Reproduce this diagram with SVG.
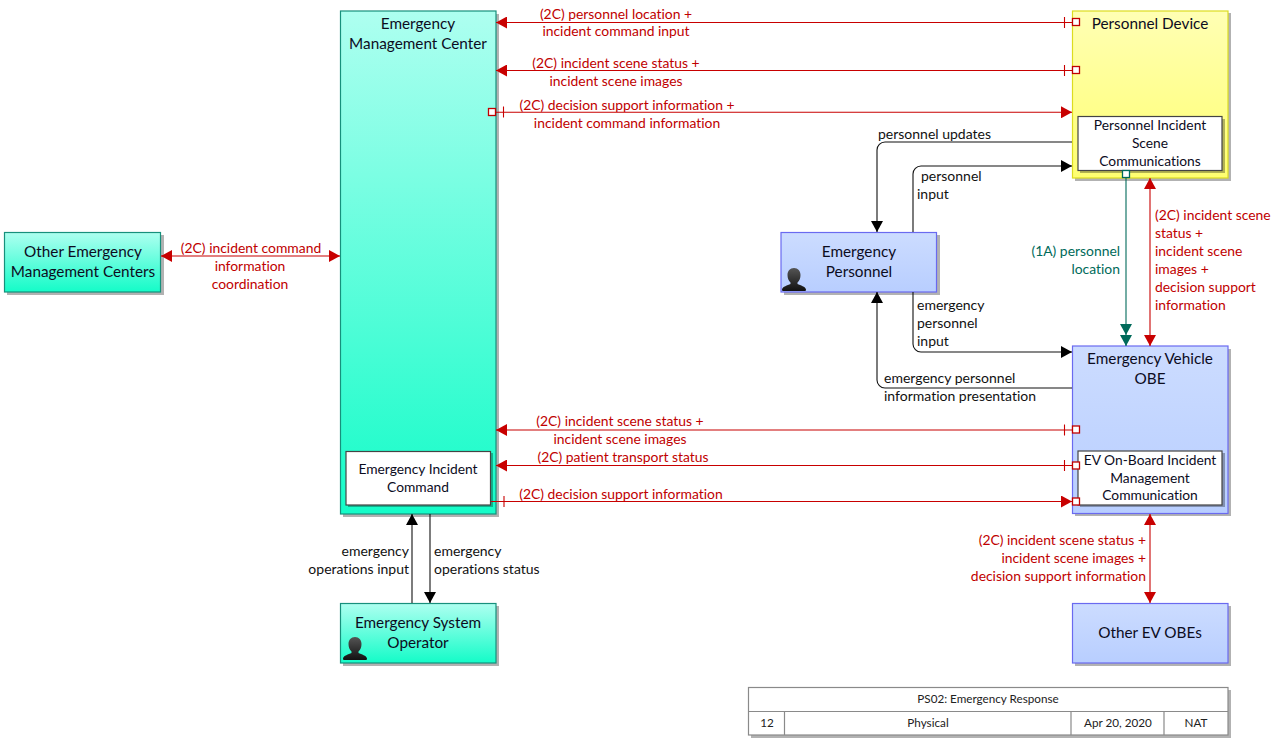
<svg xmlns="http://www.w3.org/2000/svg" width="1279" height="738" viewBox="0 0 1279 738">
<style>
text{font-family:Lato,"Open Sans","Liberation Sans",sans-serif;text-anchor:middle;font-variant-ligatures:none}
.n{font-size:15.3px;fill:#0c0c1e}
.i{font-size:13.8px;fill:#0c0c1e}
.l{font-size:14px;fill:#111}
.r{font-size:13.9px;fill:#c00000}
.t{font-size:13.9px;fill:#006a5a}
.f{font-size:11.7px;fill:#222}
.s{text-anchor:start}.e{text-anchor:end}
.sh{fill:#000;opacity:.3}
.box{fill:#fff;stroke:#444;stroke-width:1.2}
.tg{fill:url(#tg);stroke:#17907c;stroke-width:1.2}
.yl{fill:url(#yl);stroke:#dcdc20;stroke-width:1.2}
.bl{fill:url(#bl);stroke:#6a6af0;stroke-width:1.2}
.c{fill:none;stroke-width:1.1}
.kc{stroke:#111}.rc{stroke:#c80000}.gc{stroke:#006a5a}
.pr{fill:#fff;stroke:#c00000;stroke-width:1.3}
.pg{fill:#fff;stroke:#006a5a;stroke-width:1.3}
.ft{fill:#fff;stroke:#8a8a8a;stroke-width:1.2}
</style>
<defs>
<linearGradient id="tg" x1="0" y1="0" x2="0" y2="1"><stop offset="0" stop-color="#aefff0"/><stop offset="1" stop-color="#14fcc8"/></linearGradient>
<linearGradient id="yl" x1="0" y1="0" x2="0" y2="1"><stop offset="0" stop-color="#ffffb4"/><stop offset="1" stop-color="#ffff70"/></linearGradient>
<linearGradient id="bl" x1="0" y1="0" x2="0" y2="1"><stop offset="0" stop-color="#ccdcff"/><stop offset="1" stop-color="#b8ceff"/></linearGradient>
<linearGradient id="pg" x1="0" y1="0" x2="0" y2="1"><stop offset="0" stop-color="#555"/><stop offset="1" stop-color="#111"/></linearGradient>
<marker id="ak" markerUnits="userSpaceOnUse" markerWidth="11" markerHeight="12" refX="11" refY="6" orient="auto-start-reverse"><path d="M0 0L11 6L0 12Z" fill="#000"/></marker>
<marker id="ar" markerUnits="userSpaceOnUse" markerWidth="11" markerHeight="12" refX="11" refY="6" orient="auto-start-reverse"><path d="M0 0L11 6L0 12Z" fill="#c80000"/></marker>
<marker id="ag" markerUnits="userSpaceOnUse" markerWidth="11" markerHeight="12" refX="11" refY="6" orient="auto-start-reverse"><path d="M0 0L11 6L0 12Z" fill="#006a5a"/></marker>
<path id="person" d="M12 0c4 0 6.500 3 6.500 7 0 3-1 5.500-3 7.500v1.500c3 1.500 8 2.500 8.500 5.500 0 1-.5 1.500-1.500 1.500H1.500C.5 23 0 22.500 0 21.500c.5-3 5.500-4 8.500-5.500v-1.500c-2-2-3-4.500-3-7.500 0-4 2.500-7 6.500-7Z" fill="url(#pg)"/>
</defs>

<g id="emergency-management-center"><rect class="sh" x="343" y="14" width="156" height="503"/><rect class="tg" x="340.500" y="11" width="155.500" height="503"/><text class="n" x="418" y="29">Emergency</text><text class="n" x="418" y="49">Management Center</text>
<rect class="sh" x="348" y="453" width="145" height="54"/><rect class="box" x="346" y="451.500" width="144.500" height="53.500"/><text class="i" x="418" y="474">Emergency Incident</text><text class="i" x="418" y="492">Command</text></g>

<g id="other-emergency-management-centers"><rect class="sh" x="7" y="235" width="157" height="60"/><rect class="tg" x="4.500" y="232.500" width="156" height="59.500"/><text class="n" x="83" y="257">Other Emergency</text><text class="n" x="83" y="277">Management Centers</text></g>

<g id="emergency-system-operator"><rect class="sh" x="343" y="606" width="156" height="60"/><rect class="tg" x="340.500" y="603.500" width="155.500" height="59.500"/><text class="n" x="418" y="628">Emergency System</text><text class="n" x="418" y="648">Operator</text><use href="#person" x="343" y="637"/></g>

<g id="personnel-device"><rect class="sh" x="1075" y="13" width="156" height="168"/><rect class="yl" x="1072.500" y="11" width="155.500" height="167"/><text class="n" x="1150" y="29">Personnel Device</text>
<rect class="sh" x="1080" y="119" width="145" height="54"/><rect class="box" x="1078" y="116.500" width="144" height="54"/><text class="i" x="1150" y="130">Personnel Incident</text><text class="i" x="1150" y="148">Scene</text><text class="i" x="1150" y="166">Communications</text></g>

<g id="emergency-personnel"><rect class="sh" x="784" y="235" width="156" height="60"/><rect class="bl" x="781" y="232.500" width="155.500" height="59.500"/><text class="n" x="859" y="257">Emergency</text><text class="n" x="859" y="277">Personnel</text><use href="#person" x="782" y="268"/></g>

<g id="emergency-vehicle-obe"><rect class="sh" x="1075" y="349" width="156" height="167"/><rect class="bl" x="1072.500" y="346" width="155.500" height="167.500"/><text class="n" x="1150" y="364">Emergency Vehicle</text><text class="n" x="1150" y="384">OBE</text>
<rect class="sh" x="1080" y="453" width="145" height="54"/><rect class="box" x="1078" y="451" width="144" height="54"/><text class="i" x="1150" y="465">EV On-Board Incident</text><text class="i" x="1150" y="483">Management</text><text class="i" x="1150" y="500">Communication</text></g>

<g id="other-ev-obes"><rect class="sh" x="1075" y="606" width="156" height="60"/><rect class="bl" x="1072.500" y="603.500" width="155.500" height="59.500"/><text class="n" x="1150" y="638">Other EV OBEs</text></g>

<g id="connectors">
<path class="c rc" d="M1072 22.500H496" marker-end="url(#ar)"/><path class="c rc" d="M1064.500 17v11"/><rect class="pr" x="1072.500" y="18.500" width="7" height="7"/>
<path class="c rc" d="M1072 70.500H496" marker-end="url(#ar)"/><path class="c rc" d="M1064.500 65v11"/><rect class="pr" x="1072.500" y="66.500" width="7" height="7"/>
<path class="c rc" d="M496 112.300H1072" marker-end="url(#ar)"/><path class="c rc" d="M503.500 106.500v11"/><rect class="pr" x="488.500" y="108.500" width="7" height="7"/>
<path class="c rc" d="M1072 430H496" marker-end="url(#ar)"/><path class="c rc" d="M1064.500 424.500v11"/><rect class="pr" x="1072.500" y="426" width="7" height="7"/>
<path class="c rc" d="M1072 465.500H496" marker-end="url(#ar)"/><path class="c rc" d="M1064.500 460v11"/><rect class="pr" x="1072.500" y="462" width="7" height="7"/>
<path class="c rc" d="M491 501.500H1072" marker-end="url(#ar)"/><path class="c rc" d="M504 496v11"/><rect class="pr" x="1072.500" y="498" width="7" height="7"/>
<path class="c rc" d="M161 256H340" marker-start="url(#ar)" marker-end="url(#ar)"/>
<path class="c rc" d="M1150 178V346" marker-start="url(#ar)" marker-end="url(#ar)"/>
<path class="c rc" d="M1150 514V603" marker-start="url(#ar)" marker-end="url(#ar)"/>
<path class="c gc" d="M1126 178V335" marker-end="url(#ag)"/><path class="c gc" d="M1126 335V346" marker-end="url(#ag)"/><rect class="pg" x="1122.500" y="170.500" width="7" height="7"/>
<path class="c kc" d="M1072 142H885a8 8 0 0 0-8 8V232" marker-end="url(#ak)"/>
<path class="c kc" d="M913 232V174a8 8 0 0 1 8-8H1072" marker-end="url(#ak)"/>
<path class="c kc" d="M913 292V344a8 8 0 0 0 8 8H1072" marker-end="url(#ak)"/>
<path class="c kc" d="M1072 388H885a8 8 0 0 1-8-8V292" marker-end="url(#ak)"/>
<path class="c kc" d="M412 603V514" marker-end="url(#ak)"/>
<path class="c kc" d="M430 514V603" marker-end="url(#ak)"/>
</g>

<g id="labels">
<text class="r" x="616" y="19">(2C) personnel location +</text><text class="r" x="616" y="36">incident command input</text>
<text class="r" x="616" y="68">(2C) incident scene status +</text><text class="r" x="616" y="86">incident scene images</text>
<text class="r" x="627" y="110">(2C) decision support information +</text><text class="r" x="627" y="128">incident command information</text>
<text class="r" x="251" y="253">(2C) incident command</text><text class="r" x="250" y="271">information</text><text class="r" x="250" y="289">coordination</text>
<text class="r" x="620" y="426">(2C) incident scene status +</text><text class="r" x="620" y="444">incident scene images</text>
<text class="r" x="623" y="462">(2C) patient transport status</text>
<text class="r" x="621" y="499">(2C) decision support information</text>
<text class="r s" x="1155" y="220">(2C) incident scene</text><text class="r s" x="1155" y="238">status +</text><text class="r s" x="1155" y="256">incident scene</text><text class="r s" x="1155" y="274">images +</text><text class="r s" x="1155" y="292">decision support</text><text class="r s" x="1155" y="310">information</text>
<text class="t e" x="1120" y="256">(1A) personnel</text><text class="t e" x="1120" y="274">location</text>
<text class="r e" x="1146" y="545">(2C) incident scene status +</text><text class="r e" x="1146" y="563">incident scene images +</text><text class="r e" x="1146" y="581">decision support information</text>
<text class="l s" x="878" y="139">personnel updates</text>
<text class="l s" x="921" y="181">personnel</text><text class="l s" x="917" y="199">input</text>
<text class="l s" x="917" y="310">emergency</text><text class="l s" x="917" y="328">personnel</text><text class="l s" x="917" y="346">input</text>
<text class="l s" x="884" y="383">emergency personnel</text><text class="l s" x="884" y="401">information presentation</text>
<text class="l e" x="409" y="556">emergency</text><text class="l e" x="409" y="574">operations input</text>
<text class="l s" x="434" y="556">emergency</text><text class="l s" x="434" y="574">operations status</text>
</g>

<g id="title-block"><rect class="sh" x="751" y="690" width="480" height="48"/><rect class="ft" x="748.500" y="687.500" width="479.500" height="47.500"/><path class="ft" d="M748.500 711.500H1228M784.500 711.500V735M1071 711.500V735M1164 711.500V735"/>
<text class="f" x="988" y="703">PS02: Emergency Response</text><text class="f" x="767" y="727">12</text><text class="f" x="928" y="727">Physical</text><text class="f" x="1118" y="727">Apr 20, 2020</text><text class="f" x="1196" y="727">NAT</text></g>
</svg>
